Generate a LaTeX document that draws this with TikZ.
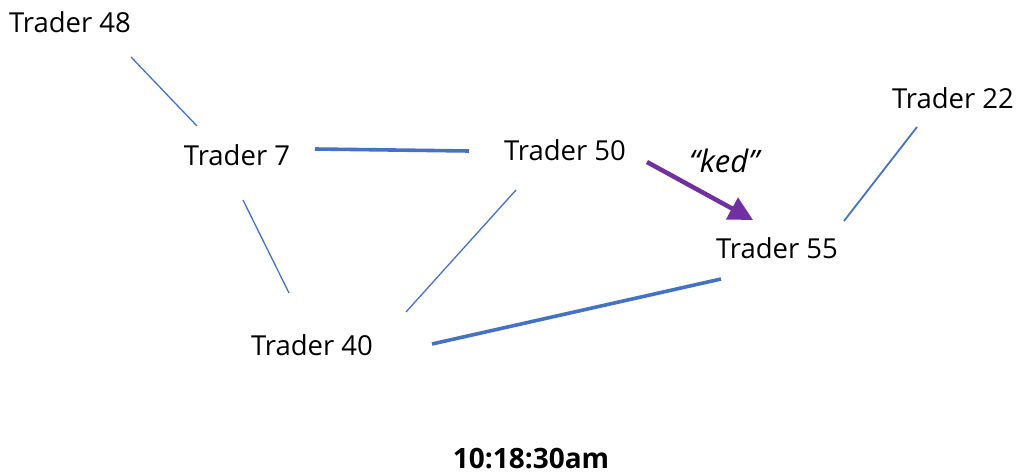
\documentclass[tikz,border=0pt]{standalone}
\usepackage{fontspec}
\setmainfont{Open Sans}
\usetikzlibrary{arrows.meta}
\definecolor{lnblue}{HTML}{4472C4}
\definecolor{arrpurple}{HTML}{7030A0}
\begin{document}
\begin{tikzpicture}[x=1pt,y=-1pt,
  trader/.style={inner sep=0pt,font=\fontsize{27.5}{32}\selectfont},
  thinlink/.style={draw=lnblue,line width=1.3pt},
  midlink/.style={draw=lnblue,line width=1.8pt},
  thicklink/.style={draw=lnblue,line width=3.6pt},
  sendarrow/.style={draw=arrpurple,line width=4.5pt,-{Triangle[length=24pt,width=24pt]}}]
\useasboundingbox (0,0) rectangle (1018,476);
\node[trader] (t48) at (70,22) {Trader 48};
\node[trader] (t7) at (237,155) {Trader 7};
\node[trader] (t50) at (565,150) {Trader 50};
\node[trader] (t22) at (953,98) {Trader 22};
\node[trader] (t55) at (777,248) {Trader 55};
\node[trader] (t40) at (312,345) {Trader 40};
\node[inner sep=0pt,font=\fontsize{31}{36}\selectfont\itshape] (ked) at (724,161) {“ked”};
\node[inner sep=0pt,font=\fontsize{28}{33}\selectfont\bfseries] (time) at (531,459) {10:18:30am};
\draw[thinlink] ([shift={(61,35)}]t48.center) -- ([shift={(-40,-29)}]t7.center);
\draw[thicklink] ([shift={(78,-6)}]t7.center) -- ([shift={(-96,1)}]t50.center);
\draw[thinlink] ([shift={(6,45)}]t7.center) -- ([shift={(-23,-52)}]t40.center);
\draw[thinlink] ([shift={(-49,40)}]t50.center) -- ([shift={(94,-33)}]t40.center);
\draw[thicklink] ([shift={(120,-1)}]t40.center) -- ([shift={(-56,31)}]t55.center);
\draw[midlink] ([shift={(-36,29)}]t22.center) -- ([shift={(67,-27)}]t55.center);
\draw[sendarrow] ([shift={(82,12)}]t50.center) -- ([shift={(-24,-28)}]t55.center);
\end{tikzpicture}
\end{document}
